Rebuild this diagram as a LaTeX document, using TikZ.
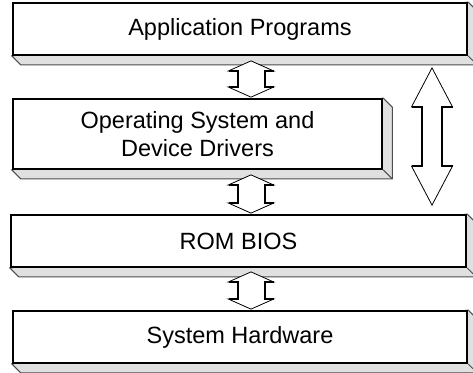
\documentclass[tikz,border=0pt]{standalone}
\usepackage{fontspec}
\setmainfont{Liberation Sans}
\usetikzlibrary{calc,backgrounds}

\tikzset{
	layer/.style={draw, line width=2bp, fill=white, inner sep=0pt, align=center,
		font=\fontsize{23.5bp}{28bp}\selectfont},
	extrude/.style={draw=black!70, line width=1bp, fill=black!12},
	shaftline/.style={line width=2bp},
	headline/.style={line width=0.8bp, fill=white}
}

% #1 upper tip, #2 lower tip, #3 half head, #4 half shaft, #5 head length
\newcommand{\fatarrow}[5]{%
	\draw[headline] (#1) -- ($(#1)+(#3,#5)$) -- ($(#1)+(#4,#5)$) -- ($(#2)+(#4,-#5)$) -- ($(#2)+(#3,-#5)$) -- (#2)
		-- ($(#2)+(-#3,-#5)$) -- ($(#2)+(-#4,-#5)$) -- ($(#1)+(-#4,#5)$) -- ($(#1)+(-#3,#5)$) -- cycle;
	\draw[shaftline] ($(#1)+(#3,#5)$) -- ($(#1)+(#4,#5)$) -- ($(#2)+(#4,-#5)$) -- ($(#2)+(#3,-#5)$)
		($(#1)+(-#3,#5)$) -- ($(#1)+(-#4,#5)$) -- ($(#2)+(-#4,-#5)$) -- ($(#2)+(-#3,-#5)$);
}

\begin{document}
\begin{tikzpicture}[x=1bp,y=-1bp]
				\useasboundingbox (0,0) rectangle (473,372);
				\clip (0,0) rectangle (473,372);
				%LAYERS
				\node[layer, minimum width=456, minimum height=52] (app) at (240,29) {Application Programs};
				\node[layer, minimum width=371, minimum height=70] (os) at (197.5,134) {Operating System and\\Device Drivers};
				\node[layer, minimum width=457, minimum height=52] (rom) at (238.5,241) {ROM BIOS};
				\node[layer, minimum width=456, minimum height=52] (hw) at (240,337) {System Hardware};
				%SIDES
				\begin{scope}[on background layer]
					\clip (0,0) rectangle (473,372);
					\foreach \b in {app,os,rom,hw}{
						\draw[extrude] (\b.south west) -- ++(9,9) -- ($(\b.south east)+(9,9)$)
							-- ($(\b.north east)+(9,9)$) -- (\b.north east) -- cycle;
						\draw[extrude] (\b.south east) -- ++(9,9);
					}
				\end{scope}
				%ARROWS
				\coordinate (col) at (251,0);
				\coordinate (big) at (432,0);
				\coordinate (t1) at ($(col |- app.south)+(0,5)$);
				\coordinate (b1) at ($(col |- os.north)+(0,-1)$);
				\coordinate (t2) at ($(col |- os.south)+(0,5)$);
				\coordinate (b2) at ($(col |- rom.north)+(0,-1)$);
				\coordinate (t3) at ($(col |- rom.south)+(0,4)$);
				\coordinate (b3) at ($(col |- hw.north)+(0,-1)$);
				\coordinate (t4) at ($(big |- app.south)+(0,12)$);
				\coordinate (b4) at ($(big |- rom.north)+(0,-9)$);
				\fatarrow{t1}{b1}{22.5}{13.5}{10}
				\fatarrow{t2}{b2}{22.5}{13.5}{10}
				\fatarrow{t3}{b3}{22.5}{13.5}{10}
				\fatarrow{t4}{b4}{20.5}{10}{39}
\end{tikzpicture}
\end{document}
